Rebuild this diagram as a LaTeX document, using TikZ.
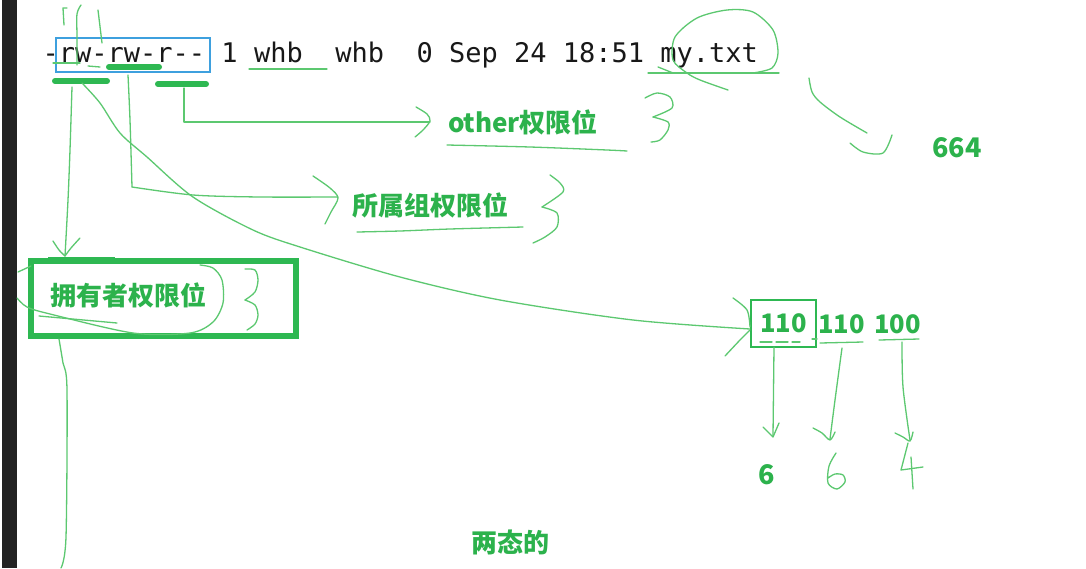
\documentclass[tikz,border=0pt]{standalone}
\usepackage{fontspec}
\newfontfamily\monofont{DejaVu Sans Mono}
\newfontfamily\cjk{Noto Sans CJK SC}
\definecolor{tg}{RGB}{44,178,76}
\definecolor{dg}{RGB}{46,184,82}
\definecolor{lg}{RGB}{92,200,112}
\definecolor{bl}{RGB}{62,160,222}
\definecolor{ink}{RGB}{24,24,24}
\newcommand\mydash{-\kern0pt }
\newcommand\mysp{\hphantom{0}}
\tikzset{
  thin/.style={draw=lg, line width=1.3pt, line cap=round, line join=round},
  lbl/.style={text=tg, font=\cjk\bfseries\fontsize{26}{30}\selectfont, inner sep=0pt},
  num/.style={text=tg, font=\cjk\bfseries\fontsize{27}{32}\selectfont, inner sep=0pt},
  bnum/.style={text=tg, font=\cjk\bfseries\fontsize{25.5}{30}\selectfont, inner sep=0pt},
  bar/.style={draw=dg, line width=6pt, line cap=round},
  cmd/.style={text=ink, font=\monofont\fontsize{27}{30}\selectfont, inner sep=0pt, anchor=base west}
}
\begin{document}
\begin{tikzpicture}[x=1pt,y=-1pt]
\useasboundingbox (0,0) rectangle (1086,568);
\fill[white] (0,0) rectangle (1086,568);
% left dark bar
\fill[ink!95] (2,0) rectangle (17,568);

% command line
\node[cmd] (cmd) at (42.5,62) {\mydash rw\mydash rw\mydash r\mydash\mydash\mysp 1\mysp whb\mysp\mysp whb\mysp\mysp 0\mysp Sep\mysp 24\mysp 18:51\mysp my.txt};
\draw[bl, line width=1.2pt] (56,38) rectangle (210,72);

% thick green bars under permissions
\coordinate (u1a) at (55,81); \coordinate (u1b) at (107,81);
\coordinate (u2a) at (109,67); \coordinate (u2b) at (159,67);
\coordinate (u3a) at (158,84); \coordinate (u3b) at (206,84);
\draw[bar] (u1a) -- (u1b);
\draw[bar] (u2a) -- (u2b);
\draw[bar] (u3a) -- (u3b);

% small strokes at top
\draw[thin] (67,8) -- (63,8) -- (64,25);
\draw[thin] plot[smooth] coordinates {(81,5) (77,14) (77,37) (77,65)};
\draw[thin] (98,10) -- (102,43);
\draw[thin] (53,63) -- (80,63);
\draw[thin] (88,66) -- (100,67);
% underlines in command line
\draw[thin] (249,69) -- (327,69);
\draw[thin] (648,73) -- (779,73);
\draw[thin] plot[smooth] coordinates {(728,90) (700,80) (687,73) (673,60) (675,37) (697,18) (727,10) (753,12) (773,30) (778,53) (772,68) (753,73)};
\draw[thin] (658,67) -- (673,73);
% hook towards 664
\draw[thin] plot[smooth] coordinates {(809,78) (812,92) (820,102) (840,117) (867,133)};
\draw[thin] plot[smooth] coordinates {(850,143) (863,152) (883,153) (892,135)};

% labels
\node[lbl] (other) at (523,122) {other权限位};
\node[lbl] (group) at (430,205) {所属组权限位};
\node[draw=dg, line width=5.5pt, minimum width=265pt, minimum height=75pt, inner sep=0pt] (ubox) at (163.5,298.5) {};
\node[lbl] (owner) at (128,295) {拥有者权限位};
\node[num] (n664) at (957,148) {664};

% underlines of labels
\draw[thin] plot[smooth] coordinates {(447,145) (530,147) (607,150) (627,151)};
\draw[thin] plot[smooth] coordinates {(357,232) (400,231) (450,229) (523,227)};
\draw[draw=dg, line width=3pt] (48,258) -- (115,258);

% hand-drawn "3" braces
\draw[thin] plot[smooth] coordinates {(645,98) (657,93) (670,97) (672,108) (653,117)};
\draw[thin] plot[smooth] coordinates {(653,117) (668,122) (668,130) (660,140) (651,142)};
\draw[thin] plot[smooth] coordinates {(550,175) (560,183) (563,192) (542,207)};
\draw[thin] plot[smooth] coordinates {(542,207) (557,213) (557,227) (545,237) (533,243)};
\draw[thin] plot[smooth] coordinates {(245,269) (255,270) (258,280) (255,292) (245,300)};
\draw[thin] plot[smooth] coordinates {(245,300) (255,305) (258,315) (255,324) (247,330)};

% connector: other (r--)
\coordinate (s3) at (184,88);
\coordinate (e3) at (430,122);
\draw[thin] (s3) -- (184,122) -- (e3);
\draw[thin] plot[smooth] coordinates {(416,107) (427,114) (430,121) (423,130) (415,137)};

% connector: group (second rw)
\coordinate (s2) at (128,75);
\coordinate (e2) at (338,197);
\draw[thin] plot[smooth] coordinates {(s2) (130,120) (132,187)};
\draw[thin] plot[smooth] coordinates {(132,187) (193,195) (260,197) (e2)};
\draw[thin] plot[smooth] coordinates {(313,176) (330,188) (338,198) (331,212) (325,224)};

% connector: owner (first rw)
\coordinate (s1) at (72,87);
\coordinate (e1) at (65,256);
\draw[thin] plot[smooth] coordinates {(s1) (70,150) (68,200) (e1)};
\draw[thin] plot[smooth] coordinates {(53,241) (59,250) (65,256)};
\draw[thin] plot[smooth] coordinates {(80,238) (71,248) (65,256)};

% owner box scribbles
\draw[thin] (18,272) -- (31,266);
\draw[thin] plot[smooth] coordinates {(17,298) (27,307) (50,314) (133,333) (190,333) (213,322) (223,303) (222,280) (213,268) (200,265)};
\draw[thin] (39,316) -- (117,323);
\draw[thin] plot[smooth] coordinates {(59,339) (63,363) (67,390) (66,537) (61,568)};

% binary digits
\node[bnum, draw=dg, line width=1.4pt, minimum width=65pt, minimum height=47pt] (b1) at (783.5,323.5) {110};
\node[bnum] (b2) at (841.5,324) {110};
\node[bnum] (b3) at (897.5,324) {100};
\draw[thin, dash pattern=on 12pt off 4pt] (760,342) -- (800,342);
\draw[thin] (812,339) -- (817,339);
\draw[thin] (820,343) -- (863,342);
\draw[thin] (879,340) -- (919,339);

% long curve from first rw to 110
\coordinate (s4) at (82,83);
\coordinate (e4) at (750,329);
\draw[thin] plot[smooth] coordinates {(s4) (100,103) (120,133) (147,157) (193,197) (253,230) (300,247) (400,277) (500,300) (633,320) (e4)};
\draw[thin] plot[smooth] coordinates {(733,298) (747,310) (750,327)};
\draw[thin] plot[smooth] coordinates {(750,330) (740,340) (725,356)};

% arrows down to decimals
\draw[thin] (774,347) -- (773,436);
\draw[thin] (763,427) -- (773,437) -- (779,423);
\draw[thin] plot[smooth] coordinates {(842,348) (835,400) (830,439)};
\draw[thin] plot[smooth] coordinates {(813,428) (822,433) (830,440) (835,432)};
\draw[thin] plot[smooth] coordinates {(902,342) (903,387) (910,440)};
\draw[thin] plot[smooth] coordinates {(895,433) (903,437) (910,441) (913,432)};

\node[num] (d1) at (767,475) {6};
% handwritten 6
\draw[thin] plot[smooth] coordinates {(836,453) (829,466) (828,483) (837,489) (845,482) (843,475) (835,474) (828,478)};
% handwritten 4
\draw[thin] (908,443) -- (901,470) -- (923,467);
\draw[thin] (911,457) -- (913,489);

\node[lbl] (two) at (510,542) {两态的};
\end{tikzpicture}
\end{document}
